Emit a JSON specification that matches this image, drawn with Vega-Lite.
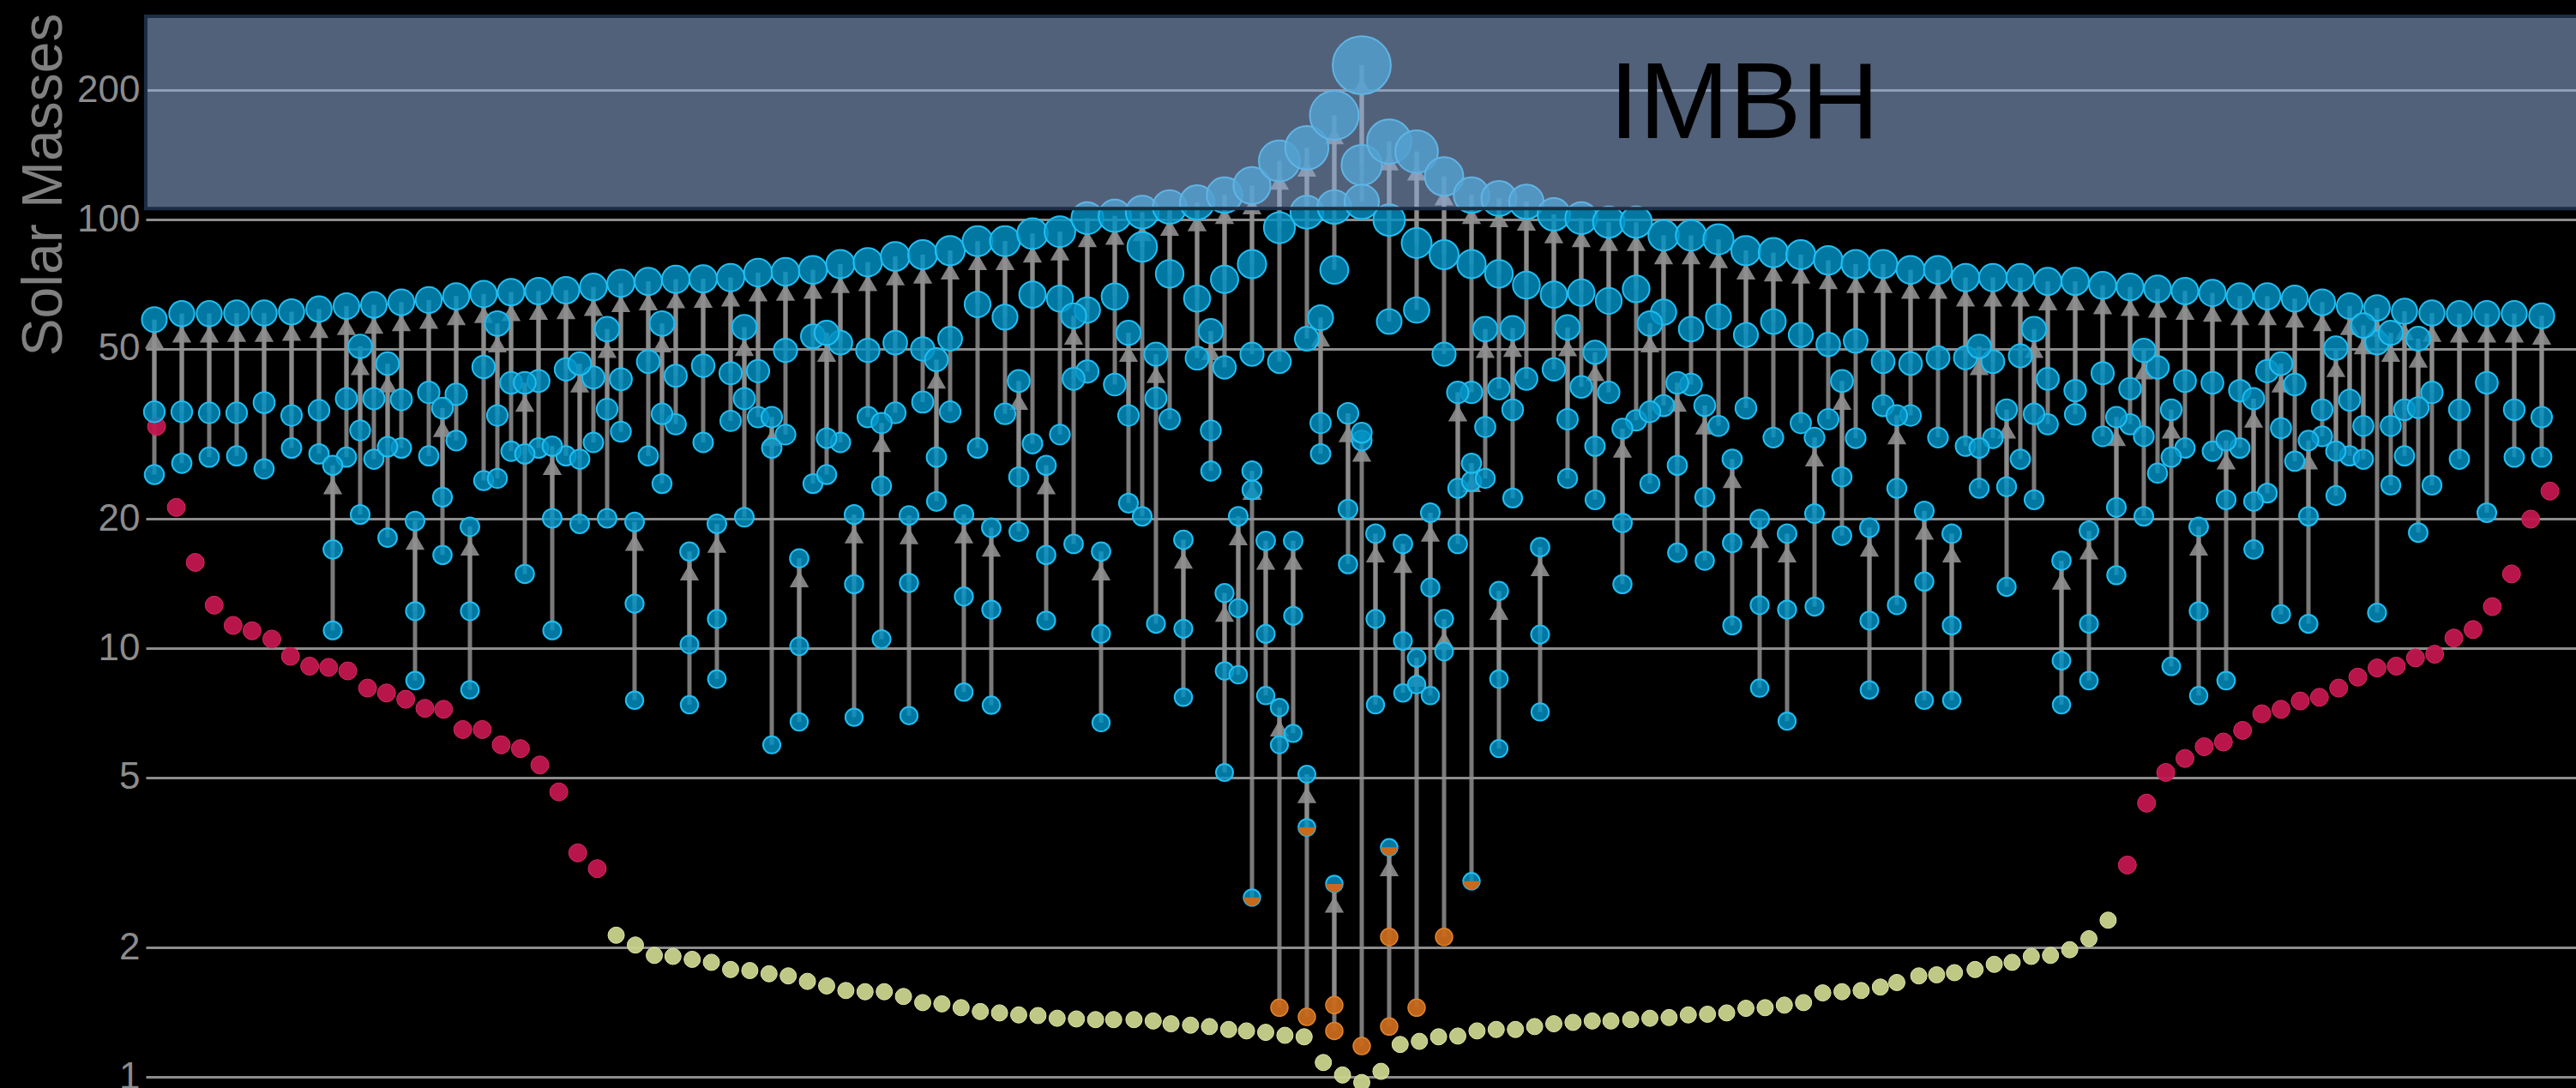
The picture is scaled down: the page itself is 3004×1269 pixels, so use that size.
{
  "$schema": "https://vega.github.io/schema/vega-lite/v6.json",
  "width": 2834,
  "height": 1269,
  "autosize": {"type": "none"},
  "padding": {"left": 170, "top": 0, "right": 0, "bottom": 0},
  "background": "#000000",
  "config": {"view": {"stroke": null}},
  "datasets": {
    "ev": [
      {"x":0,"f":58.4,"a":35.6,"b":25.4},{"x":1,"f":60.3,"a":35.6,"b":27.0},{"x":2,"f":60.3,"a":35.4,"b":27.9},{"x":3,"f":60.5,"a":35.4,"b":28.1},
      {"x":4,"f":60.5,"a":37.4,"b":26.2},{"x":5,"f":60.9,"a":34.9,"b":29.3},{"x":6,"f":61.8,"a":35.9,"b":28.4},{"x":7,"f":62.8,"a":38.2,"b":27.9},
      {"x":8,"f":63.2,"a":38.2,"b":27.6},{"x":9,"f":64.1,"a":38.0,"b":29.3},{"x":10,"f":64.9,"a":39.5,"b":28.1},{"x":11,"f":66.2,"a":39.1,"b":30.5},
      {"x":12,"f":67.0,"a":45.3,"b":24.6},{"x":13,"f":67.7,"a":41.6,"b":28.8},{"x":14,"f":68.1,"a":42.0,"b":29.3},{"x":15,"f":68.4,"a":44.7,"b":28.1},
      {"x":16,"f":69.6,"a":42.8,"b":30.2},{"x":17,"f":71.0,"a":42.4,"b":32.0},{"x":18,"f":71.7,"a":46.6,"b":28.1},{"x":19,"f":72.5,"a":43.2,"b":33.3},
      {"x":20,"f":72.7,"a":45.6,"b":30.2},{"x":21,"f":73.2,"a":43.8,"b":33.9},{"x":22,"f":75.2,"a":44.3,"b":34.6},{"x":23,"f":75.5,"a":49.5,"b":31.5},
      {"x":24,"f":76.3,"a":53.4,"b":24.2},{"x":25,"f":78.7,"a":51.6,"b":30.2},{"x":26,"f":79.5,"a":49.5,"b":34.6},{"x":27,"f":82.0,"a":51.6,"b":35.4},
      {"x":28,"f":82.8,"a":49.9,"b":37.5},{"x":29,"f":84.6,"a":52.7,"b":35.6},{"x":30,"f":89.0,"a":63.4,"b":29.3},{"x":31,"f":89.0,"a":59.2,"b":35.2},
      {"x":32,"f":92.7,"a":66.8,"b":30.0},{"x":33,"f":93.7,"a":65.4,"b":31.5},{"x":34,"f":100.7,"a":61.5,"b":44.2},{"x":35,"f":102,"a":66.1,"b":41.2},
      {"x":36,"f":104,"a":86.3,"b":20.3},{"x":37,"f":107,"a":74.7,"b":34.2},{"x":38,"f":109.6,"a":65.4,"b":47.5},{"x":39,"f":114,"a":72.5,"b":45.2},
      {"x":40,"f":120,"a":78.7,"b":48.5},{"x":41,"f":137,"a":95.7,"b":46.6},{"x":42,"f":147,"a":104,"b":52.7},{"x":43,"f":175,"a":107,"b":76.3},
      {"x":44,"f":229,"a":134,"b":110},{"x":45,"f":152,"a":99.7,"b":57.8},{"x":46,"f":144,"a":88.1,"b":61.5},{"x":47,"f":126,"a":82.8,"b":48.5},
      {"x":48,"f":114,"a":78.7,"b":39.5},{"x":49,"f":112,"a":74.7,"b":40.3},{"x":50,"f":110,"a":70.3,"b":42.5},{"x":51,"f":102.8,"a":66.8,"b":44.7},
      {"x":52,"f":100.7,"a":67.5,"b":40.7},{"x":53,"f":98.6,"a":64.6,"b":39.5},{"x":54,"f":98.6,"a":68.9,"b":34.0},{"x":55,"f":91.8,"a":60.8,"b":36.8},
      {"x":56,"f":91.8,"a":55.5,"b":41.2},{"x":57,"f":89.9,"a":59.3,"b":33.0},{"x":58,"f":84.6,"a":53.8,"b":36.3},{"x":59,"f":83.7,"a":57.8,"b":31.0},
      {"x":60,"f":82.8,"a":53.8,"b":33.5},{"x":61,"f":80.3,"a":51.1,"b":34.2},{"x":62,"f":78.7,"a":52.1,"b":30.9},{"x":63,"f":78.7,"a":46.6,"b":36.8},
      {"x":64,"f":76.3,"a":46.1,"b":34.9},{"x":65,"f":76.3,"a":47.6,"b":31.0},{"x":66,"f":73.2,"a":47.6,"b":29.6},{"x":67,"f":73.2,"a":46.6,"b":30.9},
      {"x":68,"f":73.2,"a":48.1,"b":27.6},{"x":69,"f":71.7,"a":42.5,"b":33.3},{"x":70,"f":71.7,"a":39.9,"b":35.1},{"x":71,"f":70.2,"a":43.8,"b":31.2},
      {"x":72,"f":69.6,"a":40.3,"b":33.3},{"x":73,"f":68.9,"a":45.2,"b":25.6},{"x":74,"f":68.1,"a":42.0,"b":29.3},{"x":75,"f":67.4,"a":41.6,"b":28.8},
      {"x":76,"f":66.2,"a":39.9,"b":29.3},{"x":77,"f":66.2,"a":44.3,"b":23.0},{"x":78,"f":65.4,"a":41.2,"b":27.3},{"x":79,"f":64.1,"a":36.0,"b":31.2},
      {"x":80,"f":62.8,"a":37.9,"b":28.1},{"x":81,"f":62.2,"a":51.6,"b":12.1},{"x":82,"f":61.1,"a":36.0,"b":28.1},{"x":83,"f":60.5,"a":39.5,"b":24.0},
      {"x":84,"f":60.3,"a":36.0,"b":27.6},{"x":85,"f":60.3,"a":41.6,"b":20.7},{"x":86,"f":60.3,"a":36.0,"b":27.9},{"x":87,"f":59.6,"a":34.6,"b":27.9},
      {"x":6.5,"f":26.7,"a":17.0,"b":11.0},{"x":7.5,"f":50.6,"a":32.2,"b":20.5},{"x":8.5,"f":46.1,"a":29.5,"b":18.1},{"x":9.5,"f":19.8,"a":12.2,"b":8.4},
      {"x":10.5,"f":36.3,"a":22.5,"b":16.5},{"x":11.5,"f":19.2,"a":12.2,"b":8.0},{"x":12.5,"f":57.2,"a":34.9,"b":24.9},{"x":13.5,"f":41.6,"a":28.4,"b":14.9},
      {"x":14.5,"f":29.6,"a":20.1,"b":11.0},{"x":15.5,"f":46.1,"a":27.6,"b":19.5},{"x":16.5,"f":55.5,"a":36.1,"b":20.1},{"x":17.5,"f":19.7,"a":12.7,"b":7.56},
      {"x":18.5,"f":57.2,"a":35.2,"b":24.2},{"x":19.5,"f":16.8,"a":10.2,"b":7.38},{"x":20.5,"f":19.5,"a":11.7,"b":8.47},{"x":21.5,"f":56.1,"a":38.2,"b":20.2},
      {"x":22.5,"f":34.6,"a":29.3,"b":5.95},{"x":23.5,"f":16.2,"a":10.1,"b":6.73},{"x":24.5,"f":54.4,"a":30.9,"b":25.4},{"x":25.5,"f":20.5,"a":14.1,"b":6.9},
      {"x":26.5,"f":33.5,"a":23.9,"b":10.5},{"x":27.5,"f":20.4,"a":14.2,"b":6.96},{"x":28.5,"f":47.1,"a":27.9,"b":22.0},{"x":29.5,"f":20.5,"a":13.2,"b":7.9},
      {"x":30.5,"f":19.1,"a":12.3,"b":7.36},{"x":31.5,"f":42.0,"a":25.1,"b":18.7},{"x":32.5,"f":26.7,"a":16.5,"b":11.6},{"x":33.5,"f":59.6,"a":42.5,"b":17.5},
      {"x":34.5,"f":16.8,"a":10.8,"b":6.7},{"x":35.5,"f":54.4,"a":34.9,"b":21.8},{"x":36.5,"f":48.5,"a":38.3,"b":11.4},{"x":37.5,"f":17.9,"a":11.1,"b":7.68},
      {"x":38.5,"f":54.9,"a":32.2,"b":25.9},{"x":39,"f":13.45,"a":8.85,"b":5.13},{"x":39.5,"f":20.3,"a":12.4,"b":8.67},{"x":40,"f":25.9,"a":23.4,"b":2.62},
      {"x":40.5,"f":17.8,"a":10.8,"b":7.75},{"x":41,"f":7.27,"a":5.95,"b":1.45},{"x":41.5,"f":17.8,"a":11.9,"b":6.33},{"x":42,"f":5.08,"a":3.82,"b":1.38},
      {"x":42.5,"f":59.0,"a":33.5,"b":28.4},{"x":43,"f":2.82,"a":1.47,"b":1.28},{"x":43.5,"f":35.3,"a":21.1,"b":15.7},{"x":44,"f":31.8,"a":30.5,"b":1.18},
      {"x":44.5,"f":18.5,"a":11.7,"b":7.38},{"x":45,"f":3.43,"a":2.12,"b":1.31},{"x":45.5,"f":17.5,"a":10.4,"b":7.86},{"x":46,"f":9.49,"a":8.22,"b":1.45},
      {"x":46.5,"f":20.7,"a":13.85,"b":7.75},{"x":47,"f":11.7,"a":9.82,"b":2.12},{"x":47.5,"f":39.5,"a":23.6,"b":17.5},{"x":48,"f":27.0,"a":24.5,"b":2.86},
      {"x":48.5,"f":55.5,"a":32.8,"b":24.9},{"x":49,"f":13.6,"a":8.47,"b":5.83},{"x":49.5,"f":55.8,"a":36.0,"b":22.4},{"x":50.5,"f":17.2,"a":10.76,"b":7.1},
      {"x":51.5,"f":56.0,"a":34.2,"b":24.9},{"x":52.5,"f":49.0,"a":29.6,"b":22.2},{"x":53.5,"f":32.5,"a":19.6,"b":14.1},{"x":54.5,"f":57.2,"a":35.6,"b":24.2},
      {"x":55.5,"f":41.6,"a":26.7,"b":16.7},{"x":56.5,"f":36.8,"a":22.5,"b":16.0},{"x":57.5,"f":27.6,"a":17.6,"b":11.3},{"x":58.5,"f":20.0,"a":12.6,"b":8.07},
      {"x":59.5,"f":18.5,"a":12.3,"b":6.76},{"x":60.5,"f":31.0,"a":20.6,"b":12.5},{"x":61.5,"f":42.0,"a":25.1,"b":18.3},{"x":62.5,"f":19.1,"a":11.6,"b":7.99},
      {"x":63.5,"f":34.9,"a":23.6,"b":12.6},{"x":64.5,"f":20.9,"a":14.3,"b":7.56},{"x":65.5,"f":18.5,"a":11.3,"b":7.56},{"x":66.5,"f":50.6,"a":29.3,"b":23.6},
      {"x":67.5,"f":36.0,"a":23.8,"b":13.9},{"x":68.5,"f":55.5,"a":35.2,"b":22.2},{"x":69.5,"f":16.0,"a":9.35,"b":7.38},{"x":70.5,"f":18.8,"a":11.4,"b":8.4},
      {"x":71.5,"f":34.6,"a":21.3,"b":14.8},{"x":72.5,"f":49.5,"a":31.2,"b":20.3},{"x":73.5,"f":36.0,"a":27.9,"b":9.07},{"x":74.5,"f":19.2,"a":12.2,"b":7.75},
      {"x":75.5,"f":30.5,"a":22.2,"b":8.4},{"x":76.5,"f":38.2,"a":22.0,"b":17.0},{"x":77.5,"f":46.1,"a":32.6,"b":12.0},{"x":78.5,"f":30.5,"a":20.3,"b":11.4},
      {"x":79.5,"f":50.1,"a":28.8,"b":22.7},{"x":80.5,"f":56.6,"a":33.0,"b":27.6},{"x":81.5,"f":54.4,"a":33.0,"b":24.0},{"x":82.5,"f":52.7,"a":36.4,"b":18.6}
    ],
    "xrb": [
      {"x":0.08,"m":32.9},{"x":0.8,"m":21.3},{"x":1.49,"m":15.85},{"x":2.18,"m":12.6},{"x":2.87,"m":11.3},{"x":3.56,"m":10.98},{"x":4.28,"m":10.5},
      {"x":4.96,"m":9.57},{"x":5.66,"m":9.08},{"x":6.35,"m":9.02},{"x":7.05,"m":8.85},{"x":7.77,"m":8.07},{"x":8.46,"m":7.86},{"x":9.16,"m":7.6},
      {"x":9.86,"m":7.24},{"x":10.54,"m":7.2},{"x":11.24,"m":6.46},{"x":11.95,"m":6.46},{"x":12.64,"m":5.95},{"x":13.34,"m":5.83},{"x":14.05,"m":5.34},
      {"x":14.74,"m":4.62},{"x":15.43,"m":3.33},{"x":16.14,"m":3.06},
      {"x":71.9,"m":3.12},{"x":72.6,"m":4.35},{"x":73.3,"m":5.13},{"x":74.0,"m":5.53},{"x":74.7,"m":5.89},{"x":75.4,"m":6.04},{"x":76.1,"m":6.43},
      {"x":76.8,"m":7.03},{"x":77.5,"m":7.2},{"x":78.2,"m":7.53},{"x":78.9,"m":7.68},{"x":79.6,"m":8.07},{"x":80.3,"m":8.56},{"x":81.0,"m":8.99},
      {"x":81.7,"m":9.08},{"x":82.4,"m":9.49},{"x":83.1,"m":9.68},{"x":83.8,"m":10.56},{"x":84.5,"m":11.05},{"x":85.2,"m":12.5},{"x":85.9,"m":14.9},
      {"x":86.6,"m":20.0},{"x":87.3,"m":23.25}
    ],
    "ns": [
      {"x":16.83,"m":2.14},{"x":17.53,"m":2.03},{"x":18.22,"m":1.92},{"x":18.9,"m":1.91},{"x":19.6,"m":1.88},{"x":20.3,"m":1.85},{"x":21.0,"m":1.78},
      {"x":21.7,"m":1.77},{"x":22.4,"m":1.74},{"x":23.1,"m":1.72},{"x":23.8,"m":1.67},{"x":24.5,"m":1.63},{"x":25.2,"m":1.59},{"x":25.9,"m":1.58},
      {"x":26.6,"m":1.58},{"x":27.3,"m":1.54},{"x":28.0,"m":1.49},{"x":28.7,"m":1.48},{"x":29.4,"m":1.45},{"x":30.1,"m":1.42},{"x":30.8,"m":1.41},
      {"x":31.5,"m":1.395},{"x":32.2,"m":1.39},{"x":32.9,"m":1.37},{"x":33.6,"m":1.365},{"x":34.3,"m":1.36},{"x":34.96,"m":1.36},{"x":35.7,"m":1.36},
      {"x":36.4,"m":1.35},{"x":37.05,"m":1.33},{"x":37.76,"m":1.32},{"x":38.45,"m":1.31},{"x":39.15,"m":1.29},{"x":39.8,"m":1.28},{"x":40.5,"m":1.27},
      {"x":41.2,"m":1.25},{"x":41.9,"m":1.24},{"x":42.6,"m":1.08},{"x":43.3,"m":1.01},{"x":44.0,"m":0.97},{"x":44.7,"m":1.03},{"x":45.4,"m":1.19},
      {"x":46.1,"m":1.21},{"x":46.8,"m":1.24},{"x":47.5,"m":1.245},{"x":48.2,"m":1.28},{"x":48.9,"m":1.29},{"x":49.6,"m":1.29},{"x":50.3,"m":1.31},
      {"x":51.0,"m":1.33},{"x":51.7,"m":1.34},{"x":52.4,"m":1.35},{"x":53.08,"m":1.35},{"x":53.8,"m":1.36},{"x":54.5,"m":1.37},{"x":55.2,"m":1.375},
      {"x":55.9,"m":1.395},{"x":56.6,"m":1.40},{"x":57.3,"m":1.41},{"x":58.0,"m":1.445},{"x":58.7,"m":1.45},{"x":59.4,"m":1.47},{"x":60.1,"m":1.49},
      {"x":60.8,"m":1.57},{"x":61.5,"m":1.58},{"x":62.2,"m":1.59},{"x":62.9,"m":1.62},{"x":63.5,"m":1.66},{"x":64.3,"m":1.72},{"x":64.95,"m":1.73},
      {"x":65.6,"m":1.75},{"x":66.35,"m":1.78},{"x":67.05,"m":1.83},{"x":67.7,"m":1.85},{"x":68.4,"m":1.91},{"x":69.1,"m":1.92},{"x":69.8,"m":1.98},
      {"x":70.5,"m":2.1},{"x":71.2,"m":2.32}
    ],
    "imbh": [{"lo":106,"hi":298}],
    "lbl": [{"x":57.94,"m":155,"t":"IMBH"}]
  },
  "encoding": {
    "x": {"field": "x", "type": "quantitative", "scale": {"domain": [-0.3125, 88.25], "nice": false, "zero": false}, "axis": null}
  },
  "layer": [
    {
      "data": {"name": "ev"},
      "transform": [{"fold": ["a", "b"], "as": ["k", "v"]}],
      "mark": {"type": "rule", "color": "#8f8f8f", "strokeWidth": 5, "opacity": 0.85},
      "encoding": {
        "y": {"field": "v", "type": "quantitative",
              "scale": {"type": "log", "domain": [0.9419, 325.1], "nice": false},
              "axis": {"values": [1, 2, 5, 10, 20, 50, 100, 200], "title": "Solar Masses",
                       "domain": false, "ticks": false, "tickSize": 0, "labelPadding": 7,
                       "grid": true, "gridColor": "#8c8c8c", "gridWidth": 3, "gridOpacity": 1,
                       "labelColor": "#8c8c8c", "labelFont": "Liberation Sans", "labelFontSize": 44,
                       "titleColor": "#808080", "titleFont": "Liberation Sans", "titleFontSize": 66, "titleFontWeight": "normal",
                       "titleAngle": 270, "titleAlign": "center", "titleBaseline": "alphabetic", "titleX": -99, "titleY": 215}},
        "y2": {"field": "f"}
      }
    },
    {
      "data": {"name": "ev"},
      "mark": {"type": "point", "shape": "triangle-up", "filled": true, "color": "#8f8f8f", "opacity": 0.9, "size": 500, "yOffset": 24},
      "encoding": {"y": {"field": "f", "type": "quantitative"}}
    },
    {
      "data": {"name": "xrb"},
      "mark": {"type": "point", "shape": "circle", "filled": true, "fill": "#c2164f", "stroke": "#d82a64", "strokeWidth": 1, "fillOpacity": 0.95, "size": 441},
      "encoding": {"y": {"field": "m", "type": "quantitative"}}
    },
    {
      "data": {"name": "ns"},
      "mark": {"type": "point", "shape": "circle", "filled": true, "fill": "#c9d38c", "stroke": "#e2e8a8", "strokeWidth": 1, "fillOpacity": 0.95, "size": 361},
      "encoding": {"y": {"field": "m", "type": "quantitative"}}
    },
    {
      "data": {"name": "ev"},
      "transform": [{"fold": ["a", "b"], "as": ["k", "v"]}, {"filter": "datum.v >= 2.5"}],
      "mark": {"type": "point", "shape": "circle", "filled": true, "fill": "#0092c6", "stroke": "#22bdf0", "strokeWidth": 2, "fillOpacity": 0.82},
      "encoding": {
        "y": {"field": "v", "type": "quantitative"},
        "size": {"field": "v", "type": "quantitative", "scale": {"type": "linear", "domain": [0.9, 10, 30, 58, 100, 230], "range": [361, 441, 529, 841, 1369, 4624], "clamp": true}, "legend": null}
      }
    },
    {
      "data": {"name": "ev"},
      "transform": [{"fold": ["a", "b"], "as": ["k", "v"]}, {"filter": "datum.v < 2.5"}],
      "mark": {"type": "point", "shape": "circle", "filled": true, "fill": "#c8691c", "stroke": "#e0842e", "strokeWidth": 1.5, "fillOpacity": 0.95, "size": 400},
      "encoding": {"y": {"field": "v", "type": "quantitative"}}
    },
    {
      "data": {"name": "ev"},
      "mark": {"type": "point", "shape": "circle", "filled": true, "fill": "#0092c6", "stroke": "#22bdf0", "strokeWidth": 2, "fillOpacity": 0.82},
      "encoding": {
        "y": {"field": "f", "type": "quantitative"},
        "size": {"field": "f", "type": "quantitative", "legend": null}
      }
    },
    {
      "data": {"name": "ev"},
      "transform": [{"fold": ["a", "b", "f"], "as": ["k", "v"]}, {"filter": "datum.v >= 2.5 && datum.v < 4.5"}],
      "mark": {"type": "point", "shape": "M-1,0 A1,1 0 0 0 1,0 Z", "filled": true, "fill": "#c8691c", "fillOpacity": 1},
      "encoding": {
        "y": {"field": "v", "type": "quantitative"},
        "size": {"field": "v", "type": "quantitative", "legend": null}
      }
    },
    {
      "data": {"name": "imbh"},
      "mark": {"type": "rect", "fill": "#92adda", "fillOpacity": 0.56, "stroke": "#1c2d45", "strokeWidth": 4},
      "encoding": {
        "x": {"value": 0},
        "x2": {"value": 2840},
        "y": {"field": "hi", "type": "quantitative"},
        "y2": {"field": "lo"}
      }
    },
    {
      "data": {"name": "lbl"},
      "mark": {"type": "text", "font": "Liberation Sans", "fontSize": 126, "color": "#000000", "align": "center", "baseline": "alphabetic"},
      "encoding": {
        "y": {"field": "m", "type": "quantitative"},
        "text": {"field": "t"}
      }
    }
  ]
}
